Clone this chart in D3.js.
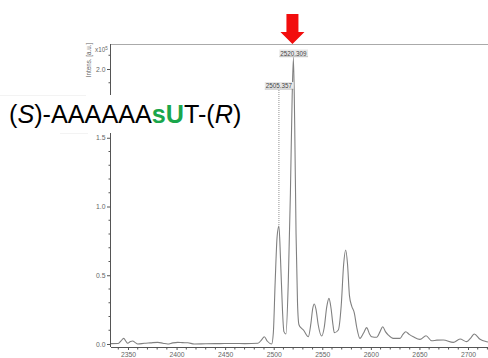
<!DOCTYPE html>
<html><head><meta charset="utf-8">
<script src="https://cdn.jsdelivr.net/npm/d3@7"></script>
<style>
html,body{margin:0;padding:0;background:#fff;}
svg{display:block;font-family:"Liberation Sans",Arial,sans-serif;}
</style></head>
<body><svg id="c" width="488" height="358"></svg>
<script>
// ---- data ----
const mz = [2332.5,2339.7,2342.5,2345.6,2347.8,2349.7,2352.5,2354.8,2357.5,2360.0,2366.8,2373,2380.6,2386,2390.9,2396,2401.2,2406,2411.5,2418.3,2430,2444.7,2458,2470.4,2483.8,2487.5,2490.3,2493.5,2497.9,2499.6,2501.5,2503.5,2505.36,2507.0,2509.0,2510.5,2512.6,2515.0,2517.2,2519.0,2520.31,2521.6,2523.0,2524.5,2526.0,2528.5,2530.5,2535.6,2538.3,2540.2,2541.8,2543.6,2545.8,2549.4,2552.0,2554.6,2556.9,2559.0,2561.0,2562.4,2566.5,2569.5,2572.0,2574.1,2576.0,2578.0,2580.3,2583.0,2585.5,2588.8,2592.5,2595.7,2598.5,2600.9,2606.0,2609.5,2612.2,2615.0,2618.0,2623.1,2630.0,2633.0,2635.9,2639.5,2643.7,2650.6,2656.8,2662.6,2668,2674.6,2684.9,2691.8,2698.7,2703,2706.5,2712.4,2719.2,2720.6];
const intensity = [0.003,0.004,0.02,0.041,0.02,0.005,0.018,0.022,0.01,0.0,0.005,0.008,0.012,0.006,0.0,0.008,0.012,0.01,0.009,0.0,0.002,0.003,0.004,0.003,0.006,0.03,0.053,0.02,0.0,0.08,0.45,0.78,0.858,0.62,0.25,0.09,0.073,0.45,1.1,1.8,2.08,1.6,0.8,0.3,0.14,0.115,0.102,0.053,0.15,0.26,0.291,0.25,0.14,0.058,0.12,0.27,0.332,0.26,0.14,0.082,0.102,0.28,0.58,0.684,0.58,0.35,0.276,0.225,0.12,0.041,0.08,0.119,0.075,0.053,0.049,0.09,0.126,0.09,0.065,0.041,0.041,0.07,0.089,0.07,0.053,0.034,0.06,0.024,0.028,0.029,0.012,0.036,0.017,0.045,0.073,0.034,0.017,0.015];
const xMajor = [2350,2400,2450,2500,2550,2600,2650,2700];
const yMajor = [0.0,0.5,1.0,1.5,2.0];
const peakLabels = ["2505.357","2520.309"];
const peakMz = [2505.357,2520.309];
const peakInt = [0.858,2.08];
const titleParts = [
  {t:"(",c:"#000",w:"normal",s:"normal"},
  {t:"S",c:"#000",w:"normal",s:"italic"},
  {t:")-AAAAAA",c:"#000",w:"normal",s:"normal"},
  {t:"sU",c:"#1aa64b",w:"bold",s:"normal"},
  {t:"T-(",c:"#000",w:"normal",s:"normal"},
  {t:"R",c:"#000",w:"normal",s:"italic"},
  {t:")",c:"#000",w:"normal",s:"normal"}
];

const svg = d3.select("#c");
const x = d3.scaleLinear().domain([2332.5, 2720.6]).range([111, 488]);
const y = d3.scaleLinear().domain([0, 2]).range([344, 69]);
const axisCol = "#555", labCol = "#666";

// top frame line
svg.append("line").attr("x1",111).attr("x2",488).attr("y1",44.5).attr("y2",44.5)
  .attr("stroke","#aaa").attr("stroke-width",1);

// spectrum
const pts = mz.map((m,i)=>[m,intensity[i]]);
svg.append("path").datum(pts)
  .attr("d", d3.line().x(d=>x(d[0])).y(d=>y(d[1])).curve(d3.curveMonotoneX))
  .attr("fill","none").attr("stroke","#808080").attr("stroke-width",1.1);

// x axis
const xMinor = d3.range(2340, 2721, 10).filter(v=>!xMajor.includes(v));
const gx = svg.append("g").attr("transform","translate(0,347)");
gx.call(d3.axisBottom(x).tickValues(xMajor).tickSize(3).tickSizeOuter(0).tickFormat(d3.format("d")));
gx.selectAll(".tick.minor").data(xMinor).enter().append("line")
  .attr("x1",d=>x(d)).attr("x2",d=>x(d)).attr("y1",0).attr("y2",2.5).attr("stroke",axisCol);
gx.select(".domain").attr("stroke",axisCol).attr("d","M111,0.5H488");
gx.selectAll(".tick line").attr("stroke",axisCol);
gx.selectAll(".tick text").attr("fill",labCol).attr("font-size",6.8).attr("dy","0.65em")
  .attr("font-family","Liberation Sans, Arial, sans-serif");

// y axis
const yMinor = d3.range(0.1, 2.15, 0.1).map(v=>+v.toFixed(1)).filter(v=>!yMajor.includes(v));
const gy = svg.append("g").attr("transform","translate(111,0)");
gy.call(d3.axisLeft(y).tickValues(yMajor).tickSize(4).tickSizeOuter(0).tickFormat(d3.format(".1f")));
gy.select(".domain").attr("stroke",axisCol).attr("d","M-0.5,44V347");
gy.selectAll(".tick line").attr("stroke",axisCol);
gy.selectAll(".tick text").attr("fill",labCol).attr("font-size",6.8).attr("x",-5.5)
  .attr("font-family","Liberation Sans, Arial, sans-serif");
gy.selectAll("line.minor").data(yMinor).enter().append("line").attr("class","minor")
  .attr("x1",-2.5).attr("x2",0).attr("y1",d=>y(d)).attr("y2",d=>y(d)).attr("stroke",axisCol);

// y axis title
svg.append("text").attr("transform","translate(91,60) rotate(-90)").attr("text-anchor","middle")
  .attr("font-size",6.3).attr("fill",labCol).text("Intens. [a.u.]");
const ex = svg.append("text").attr("x",95).attr("y",52).attr("font-size",6.3).attr("fill",labCol);
ex.append("tspan").text("x10");
ex.append("tspan").attr("dy",-2.5).attr("font-size",4.5).text("5");

// peak labels
peakMz.forEach((m,i)=>{
  const px = x(m);
  const ty = i===0 ? 88 : 55.5;
  const g = svg.append("g");
  const t = g.append("text").attr("x",px).attr("y",ty).attr("text-anchor","middle")
    .attr("font-size",6.3).attr("fill","#444").text(peakLabels[i]);
  const bb = t.node().getBBox();
  g.insert("rect","text").attr("x",bb.x-1).attr("y",bb.y).attr("width",bb.width+2).attr("height",bb.height)
    .attr("fill","#e8e8e8");
  g.append("line").attr("x1",bb.x-1).attr("x2",bb.x+bb.width+1).attr("y1",ty+1.2).attr("y2",ty+1.2)
    .attr("stroke","#888").attr("stroke-width",0.5);
  svg.append("line").attr("x1",px).attr("x2",px).attr("y1",ty+2).attr("y2",y(peakInt[i]))
    .attr("stroke","#777").attr("stroke-width",0.8)
    .attr("stroke-dasharray", i===0 ? "1,1" : null);
});

// white text box covering axis
svg.append("rect").attr("x",0).attr("y",95).attr("width",252).attr("height",38)
  .attr("fill","#fff");
svg.append("line").attr("x1",0).attr("x2",86).attr("y1",95.5).attr("y2",95.5)
  .attr("stroke","#f0f0f0").attr("stroke-width",0.8);
svg.append("line").attr("x1",60).attr("x2",88).attr("y1",133.5).attr("y2",133.5)
  .attr("stroke","#f0f0f0").attr("stroke-width",0.8);
const tt = svg.append("text").attr("x",9).attr("y",123).attr("font-size",25.2)
  .attr("font-family","Liberation Sans, Arial, sans-serif");
titleParts.forEach(p=>{
  tt.append("tspan").attr("fill",p.c).attr("font-weight",p.w).attr("font-style",p.s).text(p.t);
});

// red arrow
const ax = x(2520.309) - 1;
svg.append("path")
  .attr("d",`M${ax-6},14H${ax+6}V32H${ax+12}L${ax},44L${ax-12},32H${ax-6}Z`)
  .attr("fill","#f20d0d");
</script></body></html>
